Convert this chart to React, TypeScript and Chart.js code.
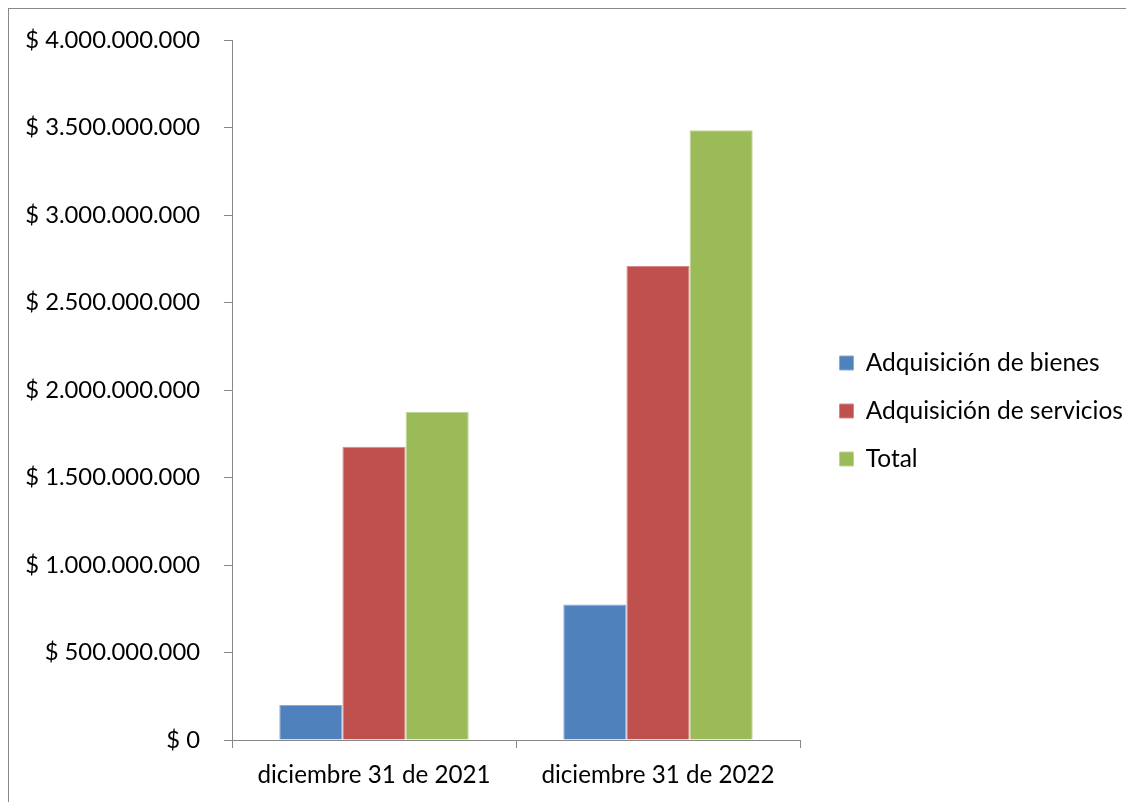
import React, { useEffect, useRef } from "react";
import { Chart, registerables } from "chart.js";

Chart.register(...registerables);

const categories = ["diciembre 31 de 2021", "diciembre 31 de 2022"];
const seriesNames = ["Adquisición de bienes", "Adquisición de servicios", "Total"];
const bienes = [200000000, 775000000];
const servicios = [1676000000, 2709000000];
const total = [1876000000, 3484000000];
const colors = ["#4F81BD", "#C0504D", "#9BBB59"];
const borders = ["#8DA9D4", "#D68987", "#BDD39A"];

const FONT = "Lato";
const CANVAS_W = 1125;
const CANVAS_H = 793;
const LEGEND_W = 334;
const LEGEND_SHIFT_X = 16;
const LEGEND_SHIFT_Y = -10;

function fmt(v: number): string {
  const s = Math.round(v).toString().replace(/\B(?=(\d{3})+(?!\d))/g, ".");
  return "$ " + s;
}

export default function App() {
  const ref = useRef<HTMLCanvasElement | null>(null);
  useEffect(() => {
    document.body.style.overflow = "hidden";
    const canvas = ref.current;
    if (!canvas) return;
    const legendFix = {
      id: "legendFix",
      beforeLayout(chart: any) {
        const lg = chart.legend;
        if (lg && !lg._patched) {
          const orig = lg.fit.bind(lg);
          lg.fit = () => {
            orig();
            lg.width = LEGEND_W;
          };
          lg._patched = true;
        }
      },
      afterLayout(chart: any) {
        const lg = chart.legend;
        if (lg) {
          lg.left += LEGEND_SHIFT_X;
          lg.right += LEGEND_SHIFT_X;
          lg.top += LEGEND_SHIFT_Y;
          lg.bottom += LEGEND_SHIFT_Y;
        }
      },
    };
    const data = [bienes, servicios, total];
    const chart = new Chart(canvas, {
      type: "bar",
      data: {
        labels: categories,
        datasets: seriesNames.map((name, i) => ({
          label: name,
          data: data[i],
          backgroundColor: colors[i],
          borderColor: borders[i],
          borderWidth: 1,
          categoryPercentage: 0.667,
          barPercentage: 1,
        })),
      },
      options: {
        animation: false,
        responsive: false,
        devicePixelRatio: 1,
        layout: { padding: { top: 31, left: 0, right: 0, bottom: 0 } },
        plugins: {
          tooltip: { enabled: false },
          legend: {
            position: "right",
            labels: {
              boxWidth: 14,
              boxHeight: 14,
              padding: 23.5,
              color: "#000",
              font: { family: FONT, size: 24.5 },
            },
          },
        },
        scales: {
          x: {
            afterFit: (s: any) => {
              s.height = CANVAS_H - 731;
            },
            grid: {
              offset: true,
              drawOnChartArea: false,
              tickLength: 8,
              color: "#868686",
            },
            border: { color: "#868686", width: 1 },
            ticks: { color: "#000", padding: 13, font: { family: FONT, size: 24.2 } },
          },
          y: {
            min: 0,
            max: 4000000000,
            afterFit: (s: any) => {
              s.width = 223;
              s.paddingTop = 0;
              s.paddingBottom = 0;
            },
            grid: { drawOnChartArea: false, tickLength: 8, color: "#868686" },
            border: { color: "#868686", width: 1 },
            ticks: {
              stepSize: 500000000,
              color: "#000",
              padding: 24,
              font: { family: FONT, size: 23.8 },
              callback: (v: any) => fmt(Number(v)),
            },
          },
        },
      },
      plugins: [legendFix],
    });
    return () => chart.destroy();
  }, []);
  return (
    <div
      style={{
        borderTop: "1px solid #888",
        borderLeft: "1px solid #888",
        width: 1200,
        height: 900,
      }}
    >
      <canvas ref={ref} width={CANVAS_W} height={CANVAS_H} style={{ display: "block" }} />
    </div>
  );
}
